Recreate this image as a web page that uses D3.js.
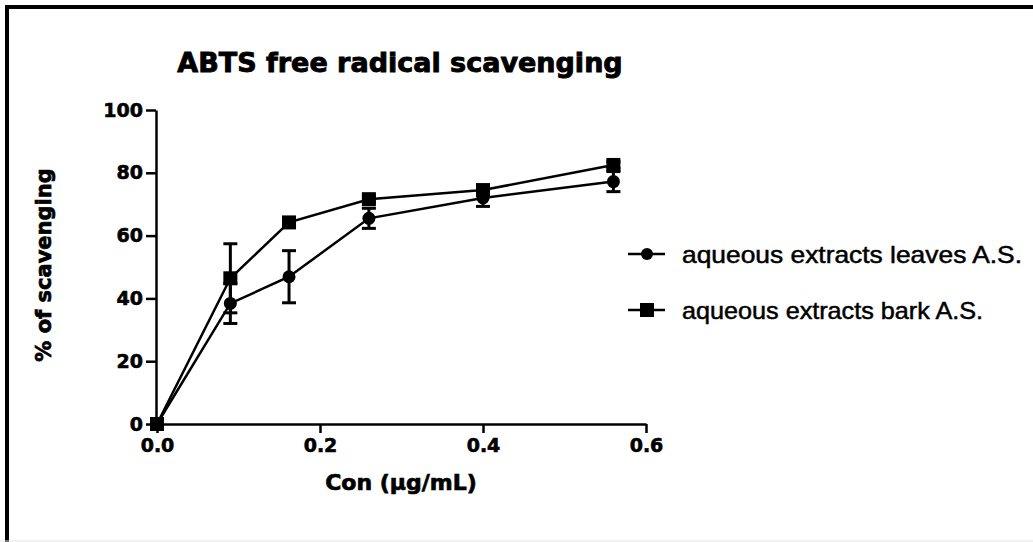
<!DOCTYPE html>
<html>
<head>
<meta charset="utf-8">
<script src="https://cdn.jsdelivr.net/npm/d3@7"></script>
<style>
  body { margin: 0; background: #fff; }
  svg { display: block; }
</style>
</head>
<body>
<svg></svg>
<script>
const width = 1033;
const height = 542;

// concentrations (µg/mL) and % scavenging
const conc = [0, 0.09, 0.162, 0.26, 0.4, 0.56];
const leavesMean = [0, 38.4, 46.9, 65.5, 72.0, 77.2];
const leavesErr = [0, 6.4, 8.3, 3.2, 2.7, 3.2];
const barkMean = [0, 46.4, 64.2, 71.6, 74.5, 82.5];
const barkErr = [0, 11.0, 1.5, 1.0, 1.0, 1.0];

const xTicks = [0, 0.2, 0.4, 0.6];
const yTicks = [0, 20, 40, 60, 80, 100];
const seriesNames = ["aqueous extracts leaves A.S.", "aqueous extracts bark A.S."];

const svg = d3.select("svg").attr("width", width).attr("height", height);

// frame
svg.append("rect").attr("x", 0).attr("y", 0).attr("width", width).attr("height", height).attr("fill", "#fff");
svg.append("line").attr("x1", 7).attr("x2", width).attr("y1", 7).attr("y2", 7)
    .attr("stroke", "#000").attr("stroke-width", 4);
svg.append("line").attr("x1", 7).attr("x2", 7).attr("y1", 5).attr("y2", height)
    .attr("stroke", "#000").attr("stroke-width", 4);
svg.append("line").attr("x1", 0).attr("x2", width).attr("y1", height - 1).attr("y2", height - 1)
    .attr("stroke", "#e4e4e4").attr("stroke-width", 1);

const x = d3.scaleLinear().domain([0, 0.6]).range([157, 646]);
const y = d3.scaleLinear().domain([0, 100]).range([424, 110]);

const tickFont = "'DejaVu Sans', sans-serif";

// bold text a bit heavier, like the original export
function heavy(sel, w) {
  sel.style("font-family", tickFont).style("font-weight", "bold")
    .attr("stroke", "#000").attr("stroke-width", w).attr("fill", "#000");
}

// axes
const xAxis = svg.append("g")
    .attr("transform", `translate(0,${y(0)})`)
    .call(d3.axisBottom(x).tickValues(xTicks).tickFormat(d3.format(".1f")).tickSize(9).tickPadding(6).tickSizeOuter(0));
const yAxis = svg.append("g")
    .attr("transform", `translate(${x(0) - 1},0)`)
    .call(d3.axisLeft(y).tickValues(yTicks).tickSize(10).tickPadding(3).tickSizeOuter(0));

[xAxis, yAxis].forEach(g => {
  g.select(".domain").attr("stroke", "#000").attr("stroke-width", 2.5);
  g.selectAll(".tick line").attr("stroke", "#000").attr("stroke-width", 2.5);
  g.selectAll(".tick text").style("font-size", "19px").call(heavy, 0.6);
});

// series
const series = [
  { name: seriesNames[0], mean: leavesMean, err: leavesErr, shape: "circle" },
  { name: seriesNames[1], mean: barkMean, err: barkErr, shape: "square" }
];

const line = d3.line().x(d => x(d.x)).y(d => y(d.y));

series.forEach(s => {
  const pts = conc.map((c, i) => ({ x: c, y: s.mean[i], e: s.err[i] }));
  const g = svg.append("g");

  g.append("path").datum(pts).attr("d", line)
    .attr("fill", "none").attr("stroke", "#000").attr("stroke-width", 2.5);

  const eb = g.selectAll(".eb").data(pts.filter(p => p.e > 0)).enter().append("g");
  eb.append("line")
    .attr("x1", d => x(d.x)).attr("x2", d => x(d.x))
    .attr("y1", d => y(d.y - d.e)).attr("y2", d => y(d.y + d.e))
    .attr("stroke", "#000").attr("stroke-width", 3);
  [-1, 1].forEach(k => {
    eb.append("line")
      .attr("x1", d => x(d.x) - 7).attr("x2", d => x(d.x) + 7)
      .attr("y1", d => y(d.y + k * d.e)).attr("y2", d => y(d.y + k * d.e))
      .attr("stroke", "#000").attr("stroke-width", 3);
  });

  if (s.shape === "circle") {
    g.selectAll(".m").data(pts).enter().append("circle")
      .attr("cx", d => x(d.x)).attr("cy", d => y(d.y)).attr("r", 6.5).attr("fill", "#000");
  } else {
    g.selectAll(".m").data(pts).enter().append("rect")
      .attr("x", d => x(d.x) - 7).attr("y", d => y(d.y) - 7)
      .attr("width", 14).attr("height", 14).attr("fill", "#000");
  }
});

// title & axis labels
svg.append("text").attr("x", 400).attr("y", 72).attr("text-anchor", "middle")
  .style("font-size", "27px").call(heavy, 0.9)
  .text("ABTS free radical scavenging");

svg.append("text").attr("x", 401).attr("y", 490).attr("text-anchor", "middle")
  .style("font-size", "22px").call(heavy, 0.7)
  .text("Con (µg/mL)");

svg.append("text")
  .attr("transform", "translate(44,265) rotate(-90)")
  .attr("text-anchor", "middle").attr("dominant-baseline", "central")
  .style("font-size", "21px").call(heavy, 0.7)
  .text("% of scavenging");

// legend
const legendY = [254, 310];
const legendLen = [340, 301];
series.forEach((s, i) => {
  const lg = svg.append("g").attr("transform", `translate(628,${legendY[i]})`);
  lg.append("line").attr("x1", 0).attr("x2", 37).attr("y1", 0).attr("y2", 0)
    .attr("stroke", "#000").attr("stroke-width", 2.5);
  if (s.shape === "circle") {
    lg.append("circle").attr("cx", 19).attr("cy", 0).attr("r", 6).attr("fill", "#000");
  } else {
    lg.append("rect").attr("x", 12).attr("y", -7).attr("width", 14).attr("height", 14).attr("fill", "#000");
  }
  lg.append("text").attr("x", 54).attr("y", 0).attr("dominant-baseline", "central")
    .attr("textLength", legendLen[i]).attr("lengthAdjust", "spacingAndGlyphs")
    .attr("stroke", "#000").attr("stroke-width", 0.5)
    .style("font-family", "'Liberation Sans', Arial, sans-serif").style("font-size", "24px")
    .text(s.name);
});
</script>
</body>
</html>
